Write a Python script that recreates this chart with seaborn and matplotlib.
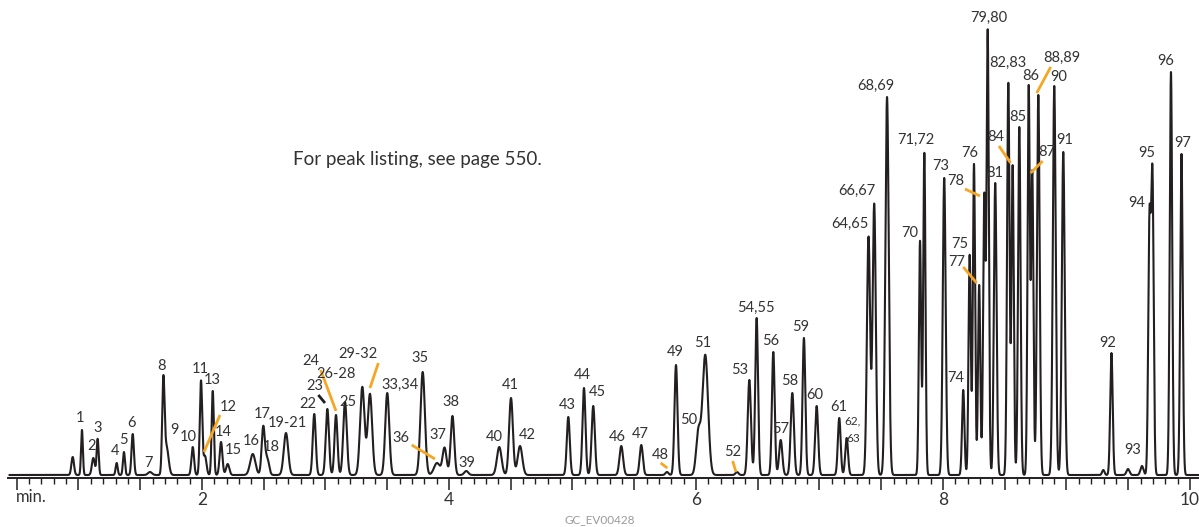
import numpy as np
import pandas as pd
import matplotlib
matplotlib.use("Agg")
import matplotlib.pyplot as plt
from matplotlib.ticker import FixedLocator, FuncFormatter
import seaborn as sns

# ---- chromatogram peak table: retention time (min), height (response), sigma (s) ----
peak_labels = ["", "1", "2", "3", "4", "5", "6", "7", "8", "9",
               "10", "11", "12", "13", "14", "15", "16", "17", "18", "19-21",
               "22", "23", "24", "25", "26-28", "29-32", "33,34", "35", "36", "37",
               "38", "39", "40", "41", "42", "43", "44", "45", "46", "47",
               "48", "49", "50", "51", "52", "53", "54,55", "56", "57", "58",
               "59", "60", "61", "62,63", "64,65", "66,67", "68,69", "70", "71,72", "73",
               "74", "75", "76", "77", "78", "79,80", "81", "82,83", "84", "85",
               "86", "87", "88,89", "90", "91", "", "92", "93", "", "94",
               "95", "96", "97"]
peak_times = [0.953, 1.028, 1.120, 1.155, 1.309, 1.368, 1.439, 1.579, 1.687, 1.713,
              1.925, 1.992, 2.024, 2.087, 2.154, 2.208, 2.411, 2.496, 2.529, 2.680,
              2.909, 3.015, 3.085, 3.158, 3.298, 3.360, 3.500, 3.787, 3.903, 3.964,
              4.028, 4.140, 4.407, 4.502, 4.575, 4.966, 5.093, 5.168, 5.395, 5.557,
              5.765, 5.838, 6.019, 6.075, 6.332, 6.432, 6.491, 6.626, 6.686, 6.780,
              6.874, 6.977, 7.160, 7.220, 7.397, 7.443, 7.547, 7.814, 7.849, 8.010,
              8.164, 8.216, 8.251, 8.293, 8.334, 8.362, 8.423, 8.529, 8.564, 8.618,
              8.694, 8.723, 8.772, 8.901, 8.974, 9.298, 9.364, 9.498, 9.611, 9.672,
              9.696, 9.846, 9.931]
peak_heights = [18, 45, 17, 36, 12, 23, 41, 3, 92, 28,
                28, 94, 19, 84, 33, 11, 21, 48, 16, 42,
                61, 66, 60, 73, 88, 81, 82, 103, 12, 27,
                59, 4, 28, 77, 29, 58, 87, 69, 29, 30,
                3, 110, 42, 120, 3, 95, 157, 123, 35, 82,
                137, 69, 57, 37, 238, 271, 378, 234, 322, 297,
                85, 220, 311, 190, 278, 443, 292, 392, 309, 348,
                388, 302, 380, 389, 323, 5, 122, 6, 9, 250,
                295, 403, 321]
peak_sigmas = [0.63, 0.44, 0.70, 0.49, 0.49, 0.49, 0.58, 0.97, 0.58, 0.97,
               0.63, 0.58, 0.73, 0.53, 0.68, 0.78, 1.26, 0.78, 0.87, 1.07,
               0.73, 0.78, 0.73, 0.87, 1.07, 1.07, 0.97, 1.07, 1.46, 0.97,
               0.87, 0.97, 1.12, 0.92, 1.12, 0.73, 0.73, 0.78, 0.87, 0.78,
               0.73, 0.73, 1.07, 1.36, 0.73, 0.78, 0.68, 0.68, 0.78, 0.78,
               0.68, 0.73, 0.68, 0.68, 0.78, 0.78, 0.82, 0.55, 0.55, 0.70,
               0.58, 0.55, 0.55, 0.55, 0.55, 0.55, 0.65, 0.60, 0.55, 0.60,
               0.55, 0.55, 0.65, 0.70, 0.70, 0.58, 0.60, 0.73, 0.73, 0.60,
               0.60, 0.60, 0.60]

# ---- annotation layout (time, response) ----
label_pos = {
    "1": (1.012, 57), "2": (1.109, 29), "3": (1.154, 47), "4": (1.296, 24),
    "5": (1.360, 35), "6": (1.433, 52), "7": (1.563, 12), "8": (1.676, 109),
    "9": (1.773, 45), "10": (1.887, 38), "11": (1.984, 106), "12": (2.211, 68),
    "13": (2.081, 95), "14": (2.170, 43), "15": (2.251, 25), "16": (2.397, 34),
    "17": (2.486, 61), "18": (2.559, 28), "19-21": (2.688, 52), "22": (2.858, 71),
    "23": (2.915, 89), "24": (2.883, 114), "25": (3.182, 73), "26-28": (3.085, 101),
    "29-32": (3.263, 121), "33,34": (3.603, 90), "35": (3.765, 117), "36": (3.611, 37),
    "37": (3.911, 40), "38": (4.016, 73), "39": (4.146, 12), "40": (4.364, 38),
    "41": (4.494, 90), "42": (4.632, 40), "43": (4.955, 70), "44": (5.077, 100),
    "45": (5.198, 83), "46": (5.360, 38), "47": (5.547, 41), "48": (5.709, 20),
    "49": (5.830, 123), "50": (5.943, 55), "51": (6.057, 132), "52": (6.300, 23),
    "53": (6.356, 105), "54,55": (6.486, 167), "56": (6.607, 134), "57": (6.688, 46),
    "58": (6.761, 94), "59": (6.850, 148), "60": (6.964, 80), "61": (7.158, 68),
    "64,65": (7.247, 251), "66,67": (7.304, 284), "68,69": (7.457, 389),
    "70": (7.733, 242), "71,72": (7.781, 335), "73": (7.984, 309), "74": (8.105, 97),
    "75": (8.138, 231), "76": (8.219, 322), "77": (8.113, 213), "78": (8.105, 294),
    "79,80": (8.372, 457), "81": (8.421, 302), "82,83": (8.526, 412), "84": (8.429, 338),
    "85": (8.607, 358), "86": (8.713, 399), "87": (8.842, 323), "88,89": (8.964, 417),
    "90": (8.939, 398), "91": (8.988, 335), "92": (9.336, 132), "93": (9.538, 25),
    "94": (9.571, 272), "95": (9.652, 322), "96": (9.806, 414), "97": (9.943, 332),
}
small_label_pos = {"62,": (7.271, 54), "63": (7.271, 36)}

orange_leaders = [
    (2.016, 23, 2.146, 60), (2.961, 105, 3.085, 64), (3.428, 112, 3.360, 87),
    (3.698, 30, 3.887, 16), (5.714, 12, 5.768, 7), (6.297, 14, 6.324, 3),
    (8.178, 286, 8.300, 279), (8.164, 208, 8.273, 192), (8.453, 329, 8.548, 312),
    (8.807, 314, 8.710, 302), (8.872, 408, 8.759, 382),
]
dark_leaders = [(2.942, 80, 2.996, 72)]

INK = "#231f20"
TEXT = "#333333"
ORANGE = "#f6a623"

sns.set_style("ticks")
plt.rcParams["font.family"] = ["Lato", "DejaVu Sans"]

# ---- build the detector trace from the peak table ----
time = np.linspace(0.44, 10.07, 40000)
response = np.zeros_like(time)
for rt, h, s in zip(peak_times, peak_heights, peak_sigmas):
    response += h * np.exp(-0.5 * ((time - rt) / (s / 60.0)) ** 2)
trace = pd.DataFrame({"time": time, "response": response})

fig = plt.figure(figsize=(11.99, 5.27), dpi=100)
ax = fig.add_axes([0.0, 49.5 / 527, 1.0, 477.5 / 527])

sns.lineplot(data=trace, x="time", y="response", ax=ax, color=INK, lw=1.5,
             estimator=None, sort=False, errorbar=None)

ax.set_xlim(0.3644, 10.073)
ax.set_ylim(-2.5, 475)
for side in ("left", "top", "right"):
    ax.spines[side].set_visible(False)
ax.spines["bottom"].set_bounds(0.43, 10.073)
ax.spines["bottom"].set_linewidth(1.4)
ax.spines["bottom"].set_color(INK)
ax.set_yticks([])
ax.set_xlabel("")
ax.set_ylabel("")

ax.xaxis.set_major_locator(FixedLocator(np.arange(0.5, 10.01, 0.5)))
ax.xaxis.set_minor_locator(FixedLocator(np.arange(0.5, 10.05, 0.1)))
ax.xaxis.set_major_formatter(FuncFormatter(
    lambda v, p: str(int(round(v))) if abs(v - round(v)) < 1e-6 and int(round(v)) % 2 == 0 else ""))
ax.tick_params(axis="x", which="major", direction="out", length=8.5, width=1.1,
               color=INK, pad=2, labelsize=12.5, labelcolor=TEXT)
ax.tick_params(axis="x", which="minor", direction="out", length=4.5, width=1.0, color=INK)

# peak numbers
for text, (x, y) in label_pos.items():
    ax.text(x, y, text, ha="center", va="center", fontsize=10.5, color=TEXT)
for text, (x, y) in small_label_pos.items():
    ax.text(x, y, text, ha="center", va="center", fontsize=8.5, color=TEXT)

# leader lines
for x0, y0, x1, y1 in orange_leaders:
    ax.plot([x0, x1], [y0, y1], color=ORANGE, lw=2.0, solid_capstyle="butt")
for x0, y0, x1, y1 in dark_leaders:
    ax.plot([x0, x1], [y0, y1], color=INK, lw=2.0, solid_capstyle="butt")

ax.text(3.741, 315, "For peak listing, see page 550.", ha="center", va="center",
        fontsize=13.5, color=TEXT)

fig.text(31 / 1199, 1 - 497 / 527, "min.", ha="center", va="center",
         fontsize=12, color=TEXT)
fig.text(600 / 1199, 1 - 520 / 527, "GC_EV00428", ha="center", va="center",
         fontsize=8.5, color="#9a9a9a")

fig.savefig("out.png", dpi=100, facecolor="white")
